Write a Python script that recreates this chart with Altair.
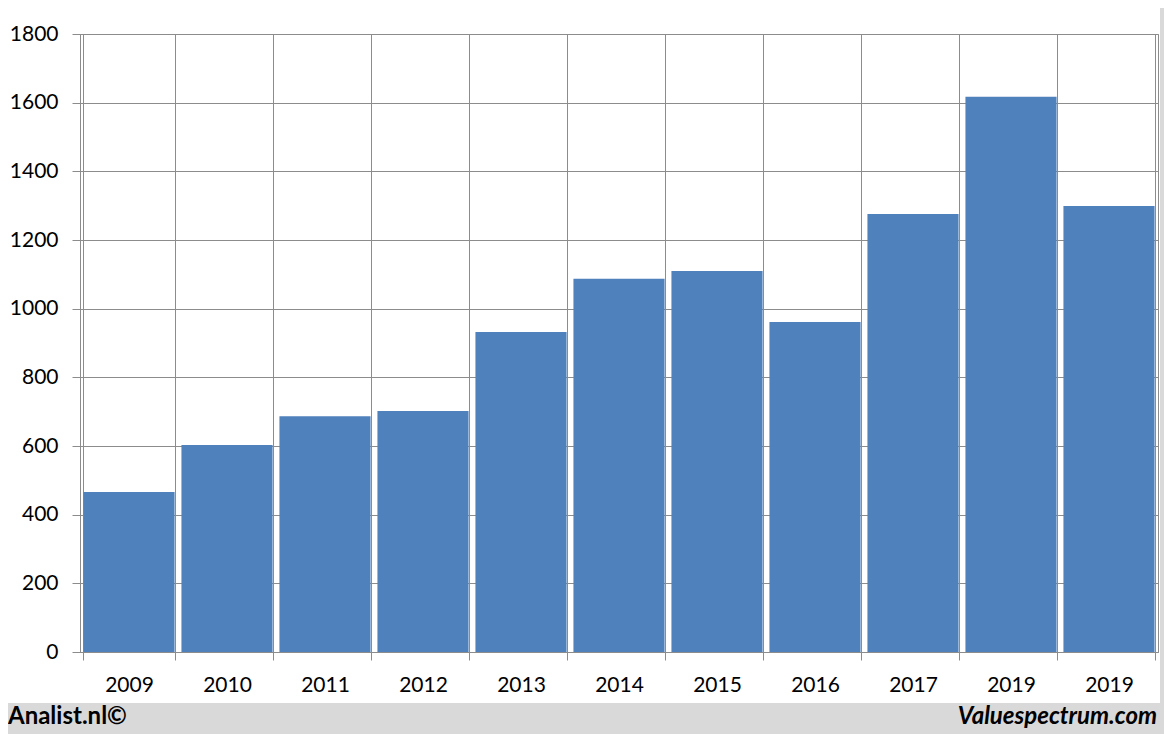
import json
import altair as alt
import pandas as pd

# ---- data ----
year_labels = ["2009", "2010", "2011", "2012", "2013", "2014", "2015", "2016", "2017", "2019", "2019"]
values = [466, 603, 687, 702, 932, 1087, 1110, 961, 1276, 1617, 1299]
y_ticks = [0, 200, 400, 600, 800, 1000, 1200, 1400, 1600, 1800]
footer_left = "Analist.nl©"
footer_right = "Valuespectrum.com"

df = pd.DataFrame({"k": list(range(len(values))), "label": year_labels, "value": values})

W, H = 1078, 618
PAD = {"left": 72, "top": 26, "right": 6, "bottom": 82}
GRID = "#8c8c8c"
FONT = "Lato"

label_expr = json.dumps(year_labels) + "[datum.value]"

bars = alt.Chart(df).mark_bar(color="#4F81BD").encode(
    x=alt.X(
        "k:O",
        scale=alt.Scale(paddingInner=0.07, paddingOuter=0.035),
        axis=alt.Axis(
            title=None, labelAngle=0, labelExpr=label_expr, tickBand="extent",
            grid=True, gridColor=GRID, tickColor=GRID, domainColor=GRID,
            tickSize=8, labelPadding=14, labelFont=FONT, labelFontSize=21,
            labelColor="black",
        ),
    ),
    y=alt.Y(
        "value:Q",
        scale=alt.Scale(domain=[0, 1800], nice=False),
        axis=alt.Axis(
            title=None, values=y_ticks, format="d", grid=True, gridColor=GRID,
            tickColor=GRID, domainColor=GRID, tickSize=8, labelPadding=14,
            labelFont=FONT, labelFontSize=21, labelColor="black",
        ),
    ),
)

one = alt.Data(values=[{"a": 1}])
gray = "#d9d9d9"
bottom_strip = alt.Chart(one).mark_rect(color=gray).encode(
    x=alt.value(-PAD["left"]), x2=alt.value(W + PAD["right"]),
    y=alt.value(669), y2=alt.value(H + PAD["bottom"]),
)
right_strip = alt.Chart(one).mark_rect(color=gray).encode(
    x=alt.value(1080), x2=alt.value(W + PAD["right"]),
    y=alt.value(-PAD["top"]), y2=alt.value(H + PAD["bottom"]),
)
left_text = alt.Chart(alt.Data(values=[{"t": footer_left}])).mark_text(
    align="left", baseline="alphabetic", font=FONT, fontSize=24, fontWeight="bold", color="black"
).encode(x=alt.value(-72), y=alt.value(690), text="t:N")
right_text = alt.Chart(alt.Data(values=[{"t": footer_right}])).mark_text(
    align="right", baseline="alphabetic", font=FONT, fontSize=24, fontWeight="bold",
    fontStyle="italic", color="black"
).encode(x=alt.value(1077), y=alt.value(690), text="t:N")

chart = alt.layer(bottom_strip, right_strip, bars, left_text, right_text).properties(
    width=W, height=H, padding=PAD, autosize=alt.AutoSizeParams(type="none"),
    background="white",
).configure_view(stroke=GRID, strokeWidth=1)

chart.save("out.html", embed_options={"renderer": "svg", "actions": False})
